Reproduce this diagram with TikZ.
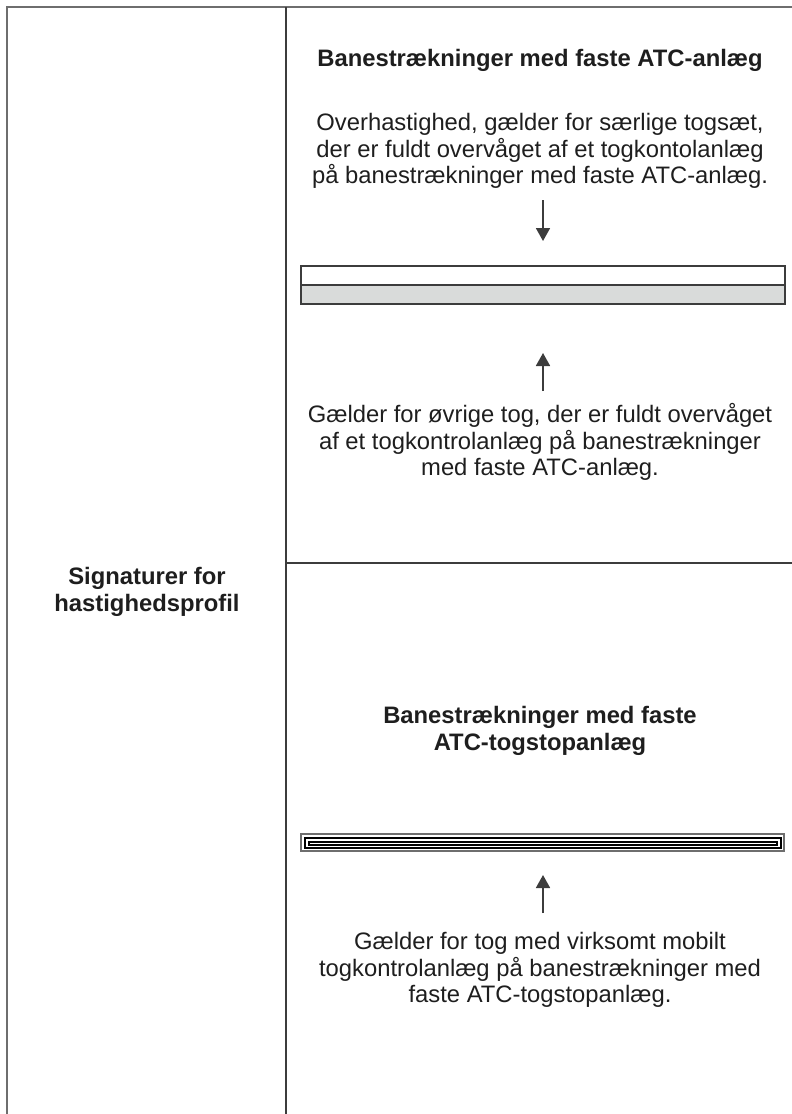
\documentclass[tikz,border=0pt]{standalone}
\usepackage{fontspec}
\setmainfont{Liberation Sans}
\usetikzlibrary{arrows.meta}

\definecolor{framegray}{HTML}{6E6E6E}
\definecolor{linegray}{HTML}{3C3C3C}
\definecolor{barfill}{HTML}{D9DBDA}
\definecolor{textgray}{HTML}{1E1E1E}

\tikzset{
  frameline/.style={framegray, line width=1.6pt},
  cellline/.style={linegray, line width=1.4pt},
  txt/.style={align=center, text=textgray, font=\fontsize{23.8}{26.3}\selectfont},
  ttl/.style={txt, font=\fontsize{23.8}{26.3}\selectfont\bfseries},
  pointer/.style={-{Triangle[length=13pt, width=14pt]}, linegray, line width=1.8pt}
}

\begin{document}
\begin{tikzpicture}[x=1pt, y=-1pt]

  \useasboundingbox (0,0) rectangle (792,1114);

  % grid of the table
  \def\xl{7}
  \def\xm{286}
  \def\yt{7}
  \def\ym{563}

  \coordinate (TL) at (\xl,\yt);
  \coordinate (TM) at (\xm,\yt);
  \coordinate (ML) at (\xm,\ym);

  \draw[frameline] (\xl,1114) -- (TL) -- (792,\yt);
  \draw[cellline] (TM) -- (\xm,1114);
  \draw[cellline] (ML) -- (792,\ym);

  % left column
  \node[ttl] (sig) at (147,592) {Signaturer for\\hastighedsprofil};

  % upper cell
  \node[ttl] (head1) at (540,60) {Banestrækninger med faste ATC-anlæg};
  \node[txt] (txt1) at (540,151) {Overhastighed, gælder for særlige togsæt,\\der er fuldt overvåget af et togkontolanlæg\\på banestrækninger med faste ATC-anlæg.};

  % bar: white over grey
  \draw[cellline, fill=white] (301,266) rectangle (785,285);
  \draw[cellline, fill=barfill] (301,285) rectangle (785,304);

  \node[txt] (txt2) at (540,442) {Gælder for øvrige tog, der er fuldt overvåget\\af et togkontrolanlæg på banestrækninger\\med faste ATC-anlæg.};

  \coordinate (d1) at (543,200);
  \coordinate (d2) at (543,241);
  \draw[pointer] (d1) -- (d2);

  \coordinate (u1) at (543,391);
  \coordinate (u2) at (543,353);
  \draw[pointer] (u1) -- (u2);

  % lower cell
  \node[ttl] (head2) at (540,731) {Banestrækninger med faste\\ATC-togstopanlæg};

  % bar: nested outlines
  \draw[frameline, line width=1.5pt] (301,834) rectangle (784,851);
  \draw[black, line width=1.2pt] (305,838) rectangle (781,848);
  \draw[black, line width=1.2pt] (309,842) rectangle (777,845);

  \coordinate (u3) at (543,913);
  \coordinate (u4) at (543,875);
  \draw[pointer] (u3) -- (u4);

  \node[txt] (txt3) at (540,970) {Gælder for tog med virksomt mobilt\\togkontrolanlæg på banestrækninger med\\faste ATC-togstopanlæg.};

\end{tikzpicture}
\end{document}
